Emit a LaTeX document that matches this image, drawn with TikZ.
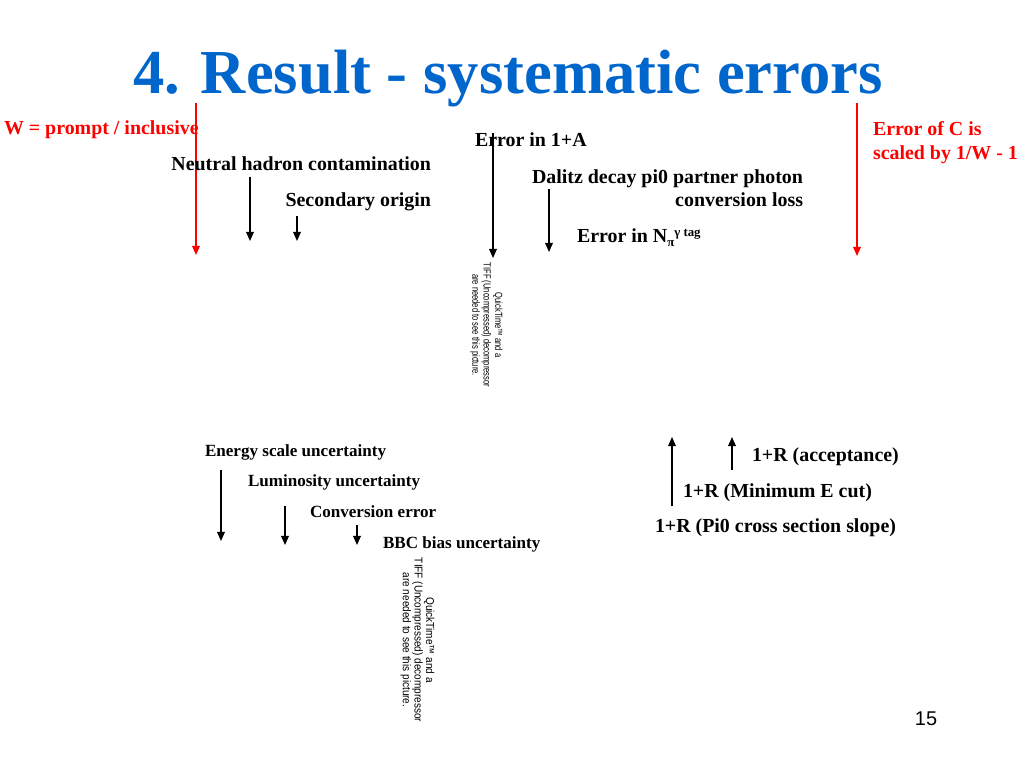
\documentclass[tikz,border=0pt]{standalone}
\usepackage{fontspec}
\setmainfont{Liberation Serif}
\newfontfamily\sansqt{Liberation Sans}
\usetikzlibrary{arrows.meta}
\definecolor{titleblue}{RGB}{0,102,204}
\definecolor{slidered}{RGB}{255,0,0}
\newcommand\qttext{QuickTime™ and a\\TIFF (Uncompressed) decompressor\\are needed to see this picture.}
\begin{document}
\begin{tikzpicture}[x=0.703125pt,y=-0.703125pt,
  every node/.style={inner sep=0pt,outer sep=0pt},
  titletext/.style={font=\fontsize{44}{50}\selectfont\bfseries,text=titleblue},
  lblA/.style={font=\fontsize{14}{16}\selectfont\bfseries,text=black},
  lblB/.style={font=\fontsize{12}{14}\selectfont\bfseries,text=black},
  redlbl/.style={font=\fontsize{14}{16}\selectfont\bfseries,text=slidered},
  qtbox/.style={rotate=-90,font=\sansqt,text=black},
  pagenum/.style={font=\sansqt\fontsize{14}{16}\selectfont,text=black},
  arr/.style={draw=black,line width=1pt,-{Triangle[length=6.5pt,width=5.5pt]}},
  rarr/.style={draw=slidered,line width=1pt,-{Triangle[length=6.5pt,width=5.5pt]}}]
\useasboundingbox[fill=white] (0,0) rectangle (1024,768);

% title
\node[titletext,anchor=base] (title) at (508,94) {4. Result - systematic errors};

% red annotations
\node[redlbl,anchor=base west] (wlbl) at (4,135) {W = prompt / inclusive};
\node[redlbl,anchor=base west] (clbl1) at (873,136) {Error of C is};
\node[redlbl,anchor=base west] (clbl2) at (873,160) {scaled by 1/W - 1};
\coordinate (rl1) at (196,103); \coordinate (rl2) at (196,255);
\coordinate (rr1) at (857,103); \coordinate (rr2) at (857,256);
\draw[rarr] (rl1) -- (rl2);
\draw[rarr] (rr1) -- (rr2);

% upper group
\node[lblA,anchor=base east] (neutral) at (431,171) {Neutral hadron contamination};
\node[lblA,anchor=base east] (second) at (431,207) {Secondary origin};
\node[lblA,anchor=base west] (err1a) at (475,147) {Error in 1+A};
\node[lblA,anchor=base east] (dalitz1) at (803,184) {Dalitz decay pi0 partner photon};
\node[lblA,anchor=base east] (dalitz2) at (803,207) {conversion loss};
\node[lblA,anchor=base west] (errn) at (577,243) {Error in N\raisebox{-2.2pt}{\fontsize{9}{9}\selectfont π}\raisebox{4.6pt}{\fontsize{9}{9}\selectfont γ tag}};

\coordinate (a1s) at (250,177); \coordinate (a1e) at (250,241);
\coordinate (a2s) at (297,216); \coordinate (a2e) at (297,241);
\coordinate (a3s) at (493,133); \coordinate (a3e) at (493,258);
\coordinate (a4s) at (549,189); \coordinate (a4e) at (549,252);
\draw[arr] (a1s) -- (a1e);
\draw[arr] (a2s) -- (a2e);
\draw[arr] (a3s) -- (a3e);
\draw[arr] (a4s) -- (a4e);

% QuickTime placeholders
\node[qtbox] (qt1) at (486,325) {\fontsize{7.3}{8}\selectfont\scalebox{0.73}[1]{\begin{tabular}{@{}c@{}}\qttext\end{tabular}}};
\node[qtbox] (qt2) at (417,640) {\fontsize{8}{7.8}\selectfont\scalebox{0.88}[1]{\begin{tabular}{@{}c@{}}\qttext\end{tabular}}};

% lower left group
\node[lblB,anchor=base west] (energy) at (205,456) {Energy scale uncertainty};
\node[lblB,anchor=base west] (lumi) at (248,486) {Luminosity uncertainty};
\node[lblB,anchor=base west] (conv) at (310,517) {Conversion error};
\node[lblB,anchor=base west] (bbc) at (383,548) {BBC bias uncertainty};
\coordinate (b1s) at (221,470); \coordinate (b1e) at (221,541);
\coordinate (b2s) at (285,506); \coordinate (b2e) at (285,545);
\coordinate (b3s) at (357,525); \coordinate (b3e) at (357,545);
\draw[arr] (b1s) -- (b1e);
\draw[arr] (b2s) -- (b2e);
\draw[arr] (b3s) -- (b3e);

% lower right group
\node[lblA,anchor=base west] (acc) at (752,461) {1+R (acceptance)};
\node[lblA,anchor=base west] (mine) at (683,497) {1+R (Minimum E cut)};
\node[lblA,anchor=base west] (slope) at (655,532) {1+R (Pi0 cross section slope)};
\coordinate (c1s) at (672,506); \coordinate (c1e) at (672,437);
\coordinate (c2s) at (732,470); \coordinate (c2e) at (732,437);
\draw[arr] (c1s) -- (c1e);
\draw[arr] (c2s) -- (c2e);

% page number
\node[pagenum,anchor=base] (pnum) at (926,725) {15};
\end{tikzpicture}
\end{document}
